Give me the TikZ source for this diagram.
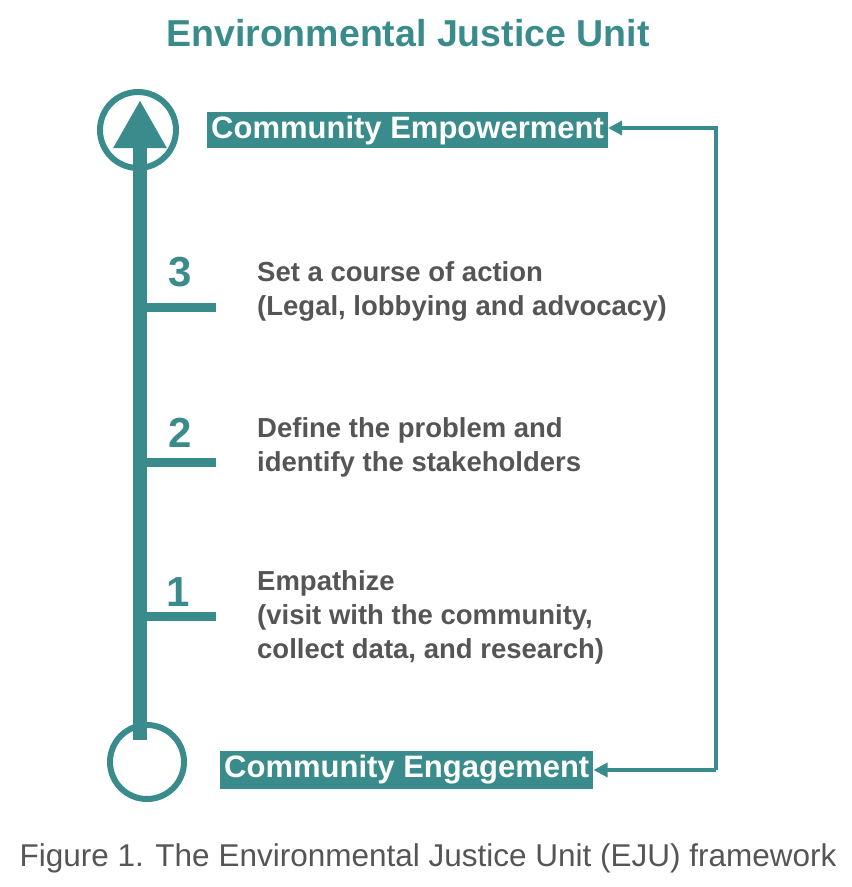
\documentclass[tikz,border=0pt]{standalone}
\usepackage{fontspec}
\setmainfont{Liberation Sans}
\usetikzlibrary{arrows.meta}
\definecolor{teal1}{HTML}{3A8C8C}
\definecolor{gray1}{HTML}{555555}
\tikzset{
 boxlbl/.style={fill=teal1,text=white,font=\bfseries\fontsize{31}{34}\selectfont,inner xsep=4pt,inner ysep=4pt,anchor=west},
 steptxt/.style={text=gray1,font=\bfseries\fontsize{27.5}{34}\selectfont,anchor=north west,align=left,inner sep=0pt},
 numlbl/.style={text=teal1,font=\bfseries\fontsize{42}{44}\selectfont},
 tickline/.style={draw=teal1,line width=9pt},
 ring/.style={draw=teal1,line width=6pt},
 loopline/.style={draw=teal1,line width=3.5pt,-{Triangle[length=14pt,width=14pt]}}
}
\begin{document}
\begin{tikzpicture}[x=1pt,y=-1pt]
\useasboundingbox (0,0) rectangle (852,887);
\node[text=teal1,font=\bfseries\fontsize{37.5}{40}\selectfont] (title) at (408,33) {Environmental Justice Unit};
\draw[ring] (138,130) circle (38);
\draw[ring] (147,762) circle (37);
\coordinate (bot) at (140,740);
\coordinate (top) at (140,100);
\draw[draw=teal1,line width=14pt,-{Triangle[length=48pt,width=50pt]}] (bot) -- (top);
\foreach \y/\n in {307/t3,462/t2,616/t1}{
 \coordinate (\n a) at (137,\y); \coordinate (\n b) at (216,\y);
 \draw[tickline] (\n a) -- (\n b);}
\node[numlbl] (n3) at (180,272) {3};
\node[numlbl] (n2) at (180,433) {2};
\node[numlbl] (n1) at (178,592) {1};
\node[steptxt] (s3) at (257,261) {Set a course of action\\(Legal, lobbying and advocacy)};
\node[steptxt] (s2) at (257,417) {Define the problem and\\identify the stakeholders};
\node[steptxt] (s1) at (257,570) {Empathize\\(visit with the community,\\collect data, and research)};
\node[boxlbl] (emp) at (207,130) {Community Empowerment};
\node[boxlbl] (eng) at (220,770) {Community Engagement};
\coordinate (c1) at (716,770);
\coordinate (c2) at (716,128);
\draw[loopline] (c1) -- (c2) -- (emp.east |- c2);
\draw[loopline] (c1) -- (eng.east);
\node[text=gray1,font=\fontsize{31.5}{34}\selectfont] (cap) at (428,858) {Figure 1. The Environmental Justice Unit (EJU) framework};
\end{tikzpicture}
\end{document}
